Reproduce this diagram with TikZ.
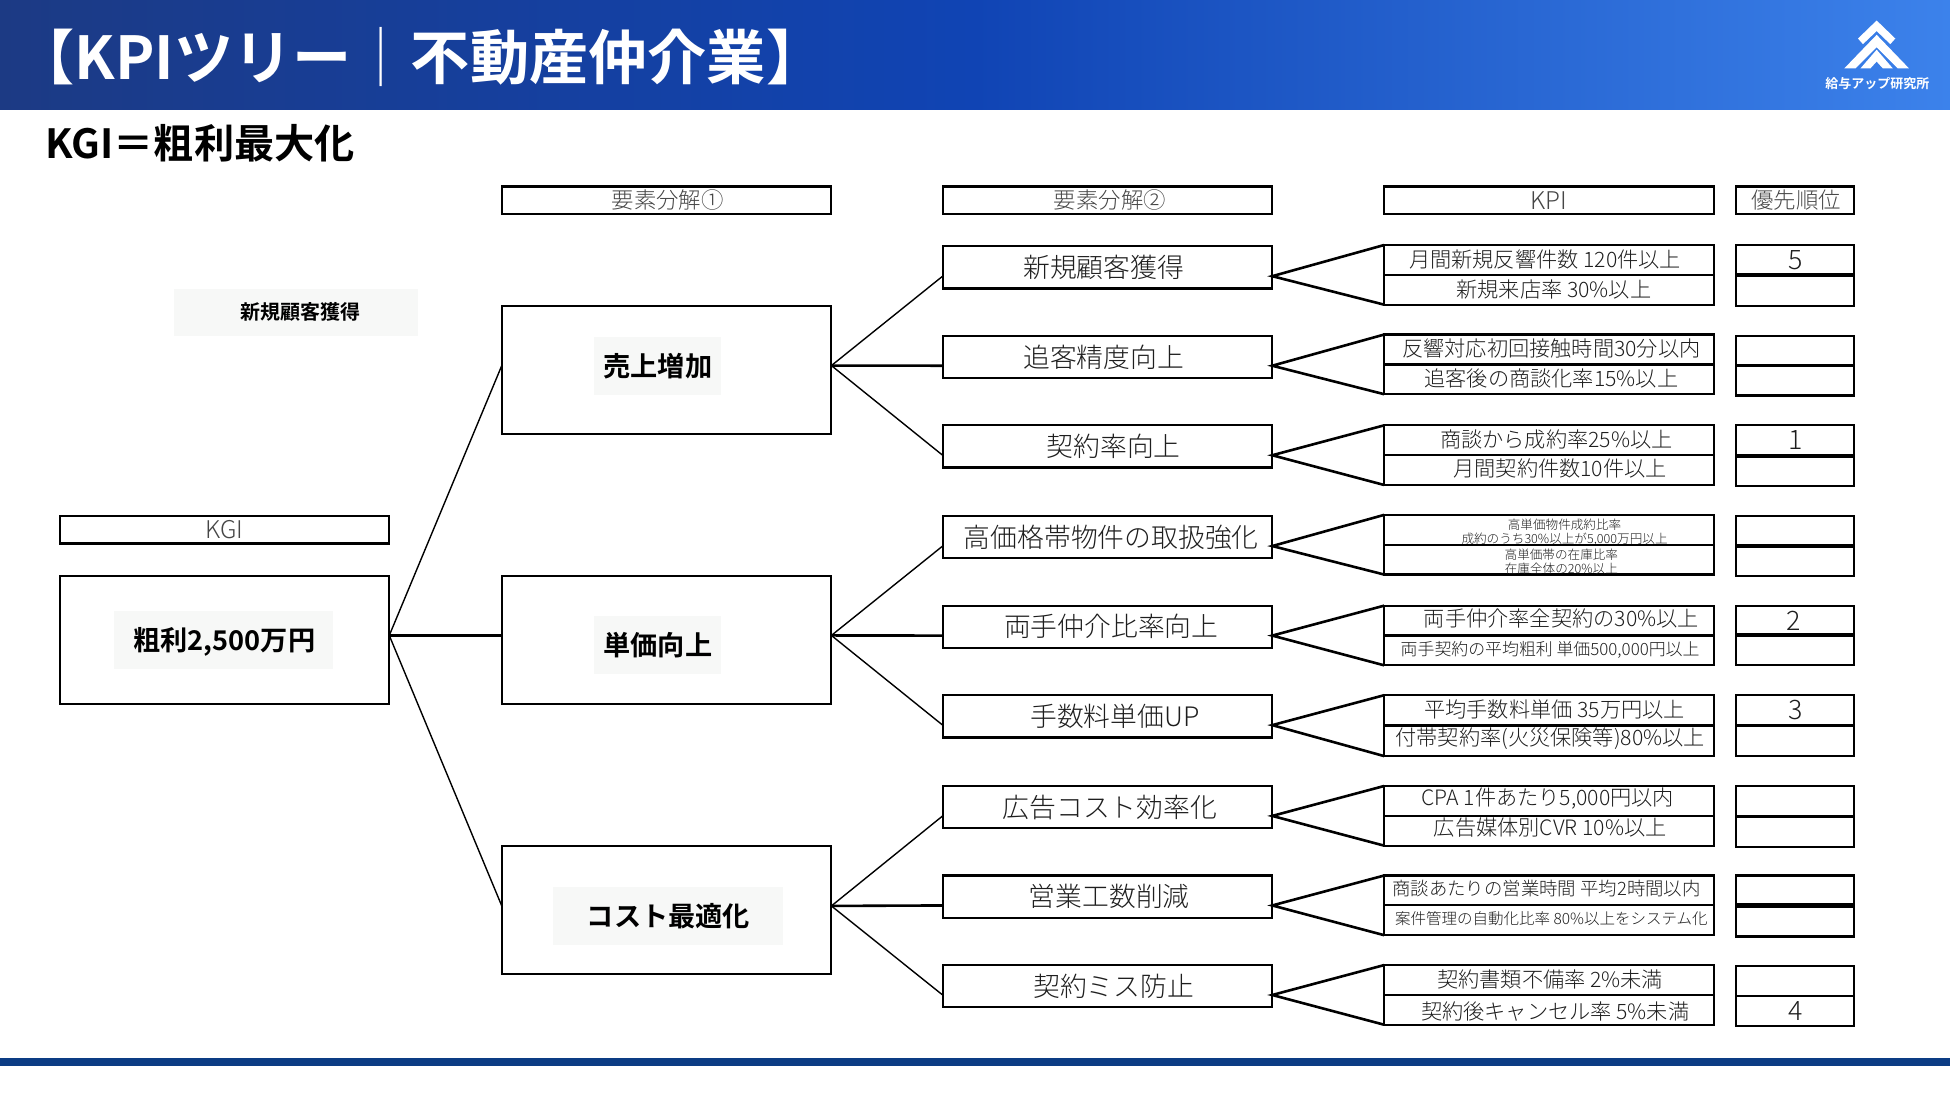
\documentclass[tikz,border=0pt]{standalone}
\usepackage{fontspec}
\setmainfont{Noto Sans CJK JP}[UprightFont={* Light},BoldFont={* Bold}]
\usetikzlibrary{positioning}
\usepackage{xcolor}
\definecolor{bannerdark}{RGB}{28,58,132}
\definecolor{bannermid}{RGB}{16,68,180}
\definecolor{bannerlight}{RGB}{60,130,235}
\definecolor{footblue}{RGB}{12,60,132}
\definecolor{headgray}{RGB}{70,70,70}
\definecolor{cellink}{RGB}{30,30,30}
\definecolor{patchgray}{RGB}{247,248,247}
\newcommand{\fs}[1]{\fontsize{#1pt}{#1pt}\selectfont}
% text offset inside a box: sideways, then up
\newcommand{\tx}[3][0]{\leavevmode\kern#2pt\raisebox{#1pt}[\height][\depth]{#3}\kern-#2pt}
\tikzset{
    cell/.style={rectangle, draw, line width=1.1pt, inner sep=0pt, outer sep=0pt, align=center},
    headbox/.style={cell, minimum width=164.8pt, minimum height=13.7pt, text=headgray, font=\fs{11.2}},
    priohead/.style={headbox, minimum width=59.1pt},
    bigbox/.style={cell, minimum width=164.8pt, minimum height=64pt},
    midbox/.style={cell, minimum width=164.8pt, minimum height=21.1pt, text=cellink, font=\fs{13.4}},
    kpibox/.style={cell, minimum width=164.8pt, minimum height=14.9pt, text=cellink, font=\fs{10.6}},
    kpismall/.style={kpibox, font=\fs{8.45}},
    kpitiny/.style={kpibox, font=\fs{6.3}},
    priobox/.style={cell, minimum width=59.1pt, minimum height=14.9pt, text=cellink, font=\fs{13.4}},
    patch/.style={rectangle, fill=patchgray, inner sep=0pt, outer sep=0pt, font=\bfseries\fs{13.6}},
    link/.style={line width=0.7pt},
    linkbold/.style={line width=1.3pt},
    forkline/.style={line width=1.3pt},
    divider/.style={line width=2pt},
    chevron/.style={fill=white}
}
\begin{document}
\begin{tikzpicture}[x=0.6218pt,y=-0.6218pt]
    \useasboundingbox (0,0) rectangle (1568,882);

    % Banner and footer
    \shade[left color=bannerdark, right color=bannerlight, middle color=bannermid] (0,0) rectangle (1568,88);
    \fill[footblue] (0,851) rectangle (1568,857);
    \node[anchor=west, text=white, inner sep=0pt, font=\bfseries\fs{29.6}] (title) at (12,46) {【KPIツリー{\mdseries ｜}不動産仲介業】};
    \node[anchor=west, inner sep=0pt, font=\bfseries\fs{20.1}] (goal) at (36,115) {KGI＝粗利最大化};

    % Logo
    \fill[chevron] (1509,16.5) -- (1524,31) -- (1520,35.5) -- (1509,25) -- (1498,35.5) -- (1494,31) -- cycle;
    \fill[chevron] (1509,28) -- (1535,55) -- (1526,55) -- (1509,38) -- (1492,55) -- (1483,55) -- cycle;
    \fill[chevron] (1509,40) -- (1522,55) -- (1514,55) -- (1509,49.5) -- (1504,55) -- (1496,55) -- cycle;
    \node[text=white, inner sep=0pt, font=\bfseries\fs{6.5}] (logotext) at (1509.5,67) {給与アップ研究所};

    % Column heads
    \node[headbox, font=\fs{12.2}] (kgihead) at (180.5,426) {KGI};
    \node[headbox] (head1) at (536,161) {\tx{0.6}{要素分解①}};
    \node[headbox] (head2) at (890.5,161) {\tx{1.2}{要素分解②}};
    \node[headbox, font=\fs{12.2}] (head3) at (1245.5,161) {KPI};
    \node[priohead] (head4) at (1443.5,161) {\tx{0.6}{優先順位}};

    % KGI and first level
    \node[patch, minimum width=121.9pt, minimum height=23.6pt, font=\bfseries\fs{10}] (note) at (238,251) {\tx{2.2}{新規顧客獲得}};
    \node[bigbox] (kgi) at (180.5,514.5) {};
    \node[patch, minimum width=109.4pt, minimum height=29.2pt] (kgitext) at (180,514.5) {\tx[-1]{0.3}{粗利2,500万円}};
    \node[bigbox] (sales) at (536,297.5) {};
    \node[patch, minimum width=63.4pt, minimum height=29.2pt] (salestext) at (529,294.5) {売上増加};
    \node[bigbox] (price) at (536,514.5) {};
    \node[patch, minimum width=63.4pt, minimum height=29.2pt] (pricetext) at (529,518.5) {単価向上};
    \node[bigbox] (cost) at (536,732) {};
    \node[patch, minimum width=115pt, minimum height=29.2pt] (costtext) at (537.5,736.5) {コスト最適化};

    % Second level
    \node[midbox] (m1) at (890.5,215) {\tx{-1.9}{新規顧客獲得}};
    \node[midbox] (m2) at (890.5,287) {\tx{-1.9}{追客精度向上}};
    \node[midbox] (m3) at (890.5,359) {\tx{3.1}{契約率向上}};
    \node[midbox] (m4) at (890.5,432) {\tx{1.9}{高価格帯物件の取扱強化}};
    \node[midbox] (m5) at (890.5,504) {\tx{1.9}{両手仲介比率向上}};
    \node[midbox] (m6) at (890.5,576) {\tx{3.7}{手数料単価UP}};
    \node[midbox] (m7) at (890.5,649) {\tx{1.2}{広告コスト効率化}};
    \node[midbox] (m8) at (890.5,721) {\tx{0.9}{営業工数削減}};
    \node[midbox] (m9) at (890.5,793) {\tx{3.1}{契約ミス防止}};

    % KPI rows
    \node[kpibox] (k1a) at (1245.5,209) {\tx{-1.9}{月間新規反響件数 120件以上}};
    \node[kpibox] (k1b) at (1245.5,233) {\tx{2.5}{新規来店率 30\%以上}};
    \node[kpibox] (k2a) at (1245.5,281) {\tx[0.6]{1.2}{反響対応初回接触時間30分以内}};
    \node[kpibox] (k2b) at (1245.5,305) {\tx[0.6]{1.2}{追客後の商談化率15\%以上}};
    \node[kpibox] (k3a) at (1245.5,354) {\tx[0.6]{3.7}{商談から成約率25\%以上}};
    \node[kpibox] (k3b) at (1245.5,378) {\tx[0.6]{5.6}{月間契約件数10件以上}};
    \node[kpitiny] (k4a) at (1245.5,426) {\tx[-1.2]{7.8}{高単価物件成約比率}\\[0.8pt]\tx[-1.2]{7.8}{成約のうち30\%以上が5,000万円以上}};
    \node[kpitiny] (k4b) at (1245.5,450) {\tx[-0.9]{6.2}{高単価帯の在庫比率}\\[0.8pt]\tx[-0.9]{6.2}{在庫全体の20\%以上}};
    \node[kpibox] (k5a) at (1245.5,499) {\tx[1.2]{6.2}{両手仲介率全契約の30\%以上}};
    \node[kpismall] (k5b) at (1245.5,523) {\tx{0.6}{両手契約の平均粗利 単価500,000円以上}};
    \node[kpibox] (k6a) at (1245.5,571) {\tx[0.4]{2.8}{平均手数料単価 35万円以上}};
    \node[kpibox] (k6b) at (1245.5,596) {\tx[1.2]{0.6}{付帯契約率(火災保険等)80\%以上}};
    \node[kpibox] (k7a) at (1245.5,644) {\tx[1.2]{-0.6}{CPA 1件あたり5,000円以内}};
    \node[kpibox] (k7b) at (1245.5,668) {\tx[1.5]{0.6}{広告媒体別CVR 10\%以上}};
    \node[kpismall, font=\fs{9.2}] (k8a) at (1245.5,716) {\tx[1.2]{-1.2}{商談あたりの営業時間 平均2時間以内}};
    \node[kpismall, font=\fs{7.75}] (k8b) at (1245.5,740) {\tx[0.6]{1.2}{案件管理の自動化比率 80\%以上をシステム化}};
    \node[kpibox] (k9a) at (1245.5,788) {\tx{0.6}{契約書類不備率 2\%未満}};
    \node[kpibox] (k9b) at (1245.5,812) {\tx[-0.6]{3.1}{契約後キャンセル率 5\%未満}};

    % Priority cells
    \node[priobox] (p1a) at (1443.5,209) {5};
    \node[priobox] (p1b) at (1443.5,234) {};
    \node[priobox] (p2a) at (1443.5,282) {};
    \node[priobox] (p2b) at (1443.5,306) {};
    \node[priobox] (p3a) at (1443.5,354) {1};
    \node[priobox] (p3b) at (1443.5,379) {};
    \node[priobox] (p4a) at (1443.5,427) {};
    \node[priobox] (p4b) at (1443.5,451) {};
    \node[priobox] (p5a) at (1443.5,499) {\tx{-0.9}{2}};
    \node[priobox] (p5b) at (1443.5,523) {};
    \node[priobox] (p6a) at (1443.5,571) {3};
    \node[priobox] (p6b) at (1443.5,596) {};
    \node[priobox] (p7a) at (1443.5,644) {};
    \node[priobox] (p7b) at (1443.5,669) {};
    \node[priobox] (p8a) at (1443.5,716) {};
    \node[priobox] (p8b) at (1443.5,741) {};
    \node[priobox] (p9a) at (1443.5,789) {};
    \node[priobox] (p9b) at (1443.5,813) {4};

    % Heavier rules between some cells
    \draw[divider] (p1a.south west) -- (p1a.south east);
    \draw[divider] (p4a.south west) -- (p4a.south east);
    \draw[divider] (p5a.south west) -- (p5a.south east);
    \draw[divider] (p8a.south west) -- (p8a.south east);

    % KGI to first level
    \draw[link] ([yshift=2.2pt]kgi.east) -- ([yshift=2.2pt]sales.west);
    \draw[linkbold] ([yshift=2.2pt]kgi.east) -- ([yshift=2.2pt]price.west);
    \draw[link] ([yshift=2.2pt]kgi.east) -- ([yshift=2.2pt]cost.west);

    % First level to second level
    \draw[link] ([yshift=2.2pt]sales.east) -- ([yshift=-4.4pt]m1.west);
    \draw[linkbold] ([yshift=2.2pt]sales.east) -- ([yshift=-4.4pt]m2.west);
    \draw[link] ([yshift=2.2pt]sales.east) -- ([yshift=-4.4pt]m3.west);
    \draw[link] ([yshift=2.2pt]price.east) -- ([yshift=-4.4pt]m4.west);
    \draw[linkbold] ([yshift=2.2pt]price.east) -- ([yshift=-4.4pt]m5.west);
    \draw[link] ([yshift=2.2pt]price.east) -- ([yshift=-4.4pt]m6.west);
    \draw[link] ([yshift=2.2pt]cost.east) -- ([yshift=-4.4pt]m7.west);
    \draw[linkbold] ([yshift=2.2pt]cost.east) -- ([yshift=-4.4pt]m8.west);
    \draw[link] ([yshift=2.2pt]cost.east) -- ([yshift=-4.4pt]m9.west);

    % Second level to KPI rows
    \draw[forkline] (k1a.north west) -- ([yshift=-4.4pt]m1.east) -- (k1b.south west);
    \draw[forkline] (k2a.north west) -- ([yshift=-4.4pt]m2.east) -- (k2b.south west);
    \draw[forkline] (k3a.north west) -- ([yshift=-4.4pt]m3.east) -- (k3b.south west);
    \draw[forkline] (k4a.north west) -- ([yshift=-4.4pt]m4.east) -- (k4b.south west);
    \draw[forkline] (k5a.north west) -- ([yshift=-4.4pt]m5.east) -- (k5b.south west);
    \draw[forkline] (k6a.north west) -- ([yshift=-4.4pt]m6.east) -- (k6b.south west);
    \draw[forkline] (k7a.north west) -- ([yshift=-4.4pt]m7.east) -- (k7b.south west);
    \draw[forkline] (k8a.north west) -- ([yshift=-4.4pt]m8.east) -- (k8b.south west);
    \draw[forkline] (k9a.north west) -- ([yshift=-4.4pt]m9.east) -- (k9b.south west);
\end{tikzpicture}
\end{document}
